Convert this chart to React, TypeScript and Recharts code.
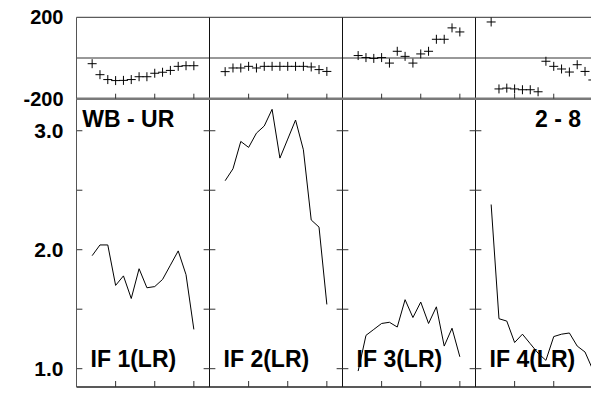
import { ComposedChart, Line, Scatter, XAxis, YAxis, ReferenceLine, ReferenceDot } from 'recharts'

// four panels share one numeric x axis, each panel is 17 units wide
const PANEL = 17
const steps = [2, 3, 4, 5, 6, 7, 8, 9, 10, 11, 12, 13, 14, 15]
const xTicks = [5, 10, 15, 22, 27, 32, 39, 44, 49, 56, 61, 66]
const dividers = [17, 34, 51]
const ampTicks = [3.0, 2.5, 2.0, 1.5, 1.0]

// upper strip (phase, -200..200)
const phase1 = [-28, -82, -106, -111, -110, -106, -92, -92, -75, -70, -61, -41, -38, -38]
const phase2 = [-67, -49, -49, -41, -49, -41, -41, -41, -41, -41, -41, -44, -57, -66]
const phase3 = [12, 2, -2, 2, -25, 33, 8, -25, 20, 33, 92, 92, 148, 128]
const phase4 = [177, -152, -148, -152, -156, -156, -166, -16, -41, -54, -69, -33, -66, -108]

// lower strip (amplitude)
const amp1 = [1.95, 2.04, 2.04, 1.70, 1.78, 1.59, 1.84, 1.68, 1.69, 1.75, 1.87, 1.99, 1.79, 1.33]
const amp2 = [2.58, 2.68, 2.91, 2.86, 2.98, 3.04, 3.18, 2.77, 2.93, 3.09, 2.84, 2.25, 2.19, 1.54]
const amp3 = [0.98, 1.28, 1.33, 1.38, 1.39, 1.35, 1.58, 1.43, 1.56, 1.38, 1.52, 1.19, 1.34, 1.10]
const amp4 = [2.38, 1.42, 1.40, 1.22, 1.29, 1.21, 1.13, 1.07, 1.27, 1.29, 1.30, 1.19, 1.14, 0.99]

const panelLabels = ['IF 1(LR)', 'IF 2(LR)', 'IF 3(LR)', 'IF 4(LR)']

const toPoints = (vals: number[], k: number) => vals.map((v, i) => ({ x: PANEL * k + steps[i], v }))

const phases = [phase1, phase2, phase3, phase4].map(toPoints)
const amps = [amp1, amp2, amp3, amp4].map(toPoints)

const FONT = 'Liberation Sans, Arial, Helvetica, sans-serif'
const W = 620
const H = 394
const tickFont = { fill: '#000', fontSize: 20, fontWeight: 700, fontFamily: FONT }
const ampTickFont = { ...tickFont, fontSize: 21 }
const labelStyle = { fill: '#000', fontSize: 23, fontWeight: 700, fontFamily: FONT }
const noLabel = () => <g />

const Plus = (props: any) => {
  const { cx, cy } = props
  if (cx == null || cy == null) return null
  return (
    <g>
      <line x1={cx - 4.5} x2={cx + 4.5} y1={cy} y2={cy} stroke="#000" strokeWidth={1} />
      <line x1={cx} x2={cx} y1={cy - 4.5} y2={cy + 4.5} stroke="#000" strokeWidth={1} />
    </g>
  )
}

function PhaseStrip() {
  return (
    <ComposedChart width={W} height={H} margin={{ top: 17.3, right: 11.5, bottom: H - 98.7, left: 0 }}>
      <XAxis dataKey="x" type="number" domain={[0, 68]} ticks={xTicks} orientation="bottom" mirror
        tick={noLabel} tickSize={5} tickLine={{ stroke: '#333' }} axisLine={{ stroke: '#7a7a7a', strokeWidth: 2.5 }} />
      <XAxis xAxisId="top" type="number" domain={[0, 68]} ticks={xTicks} orientation="top" mirror
        tick={noLabel} tickSize={4} tickLine={{ stroke: '#333' }} axisLine={{ stroke: '#333' }} />
      <YAxis dataKey="v" type="number" domain={[-200, 200]} ticks={[200, -200]} width={76.5}
        tickLine={false} tickSize={0} tickMargin={13} axisLine={{ stroke: '#555' }} tick={tickFont} />
      <ReferenceLine y={0} stroke="#333" />
      {dividers.map(d => <ReferenceLine key={d} x={d} stroke="#111" />)}
      {phases.map((pts, k) => (
        <Scatter key={k} data={pts} dataKey="v" shape={Plus} isAnimationActive={false} />
      ))}
    </ComposedChart>
  )
}

function AmpStrip() {
  return (
    <ComposedChart width={W} height={H} margin={{ top: 98.5, right: 11.5, bottom: H - 387, left: 0 }}>
      <XAxis dataKey="x" type="number" domain={[0, 68]} ticks={xTicks} orientation="bottom" mirror
        tick={noLabel} tickSize={6} tickLine={{ stroke: '#333' }} axisLine={{ stroke: '#222', strokeWidth: 1.5 }} />
      <XAxis xAxisId="top" type="number" domain={[0, 68]} ticks={xTicks} orientation="top" mirror
        tick={noLabel} tickSize={6} tickLine={{ stroke: '#333' }} axisLine={false} />
      <YAxis type="number" domain={[0.846, 3.271]} ticks={[3.0, 2.0, 1.0]} width={76.5}
        tickFormatter={(v: number) => v.toFixed(1)}
        tickLine={false} tickSize={0} tickMargin={13} axisLine={{ stroke: '#555' }} tick={ampTickFont} />
      {dividers.map(d => <ReferenceLine key={d} x={d} stroke="#111" />)}
      {ampTicks.map(v => (
        <ReferenceLine key={'l' + v} segment={[{ x: 0, y: v }, { x: 0.75, y: v }]} stroke="#333" />
      ))}
      {dividers.flatMap(d => ampTicks.map(v => (
        <ReferenceLine key={d + '-' + v} segment={[{ x: d - 0.75, y: v }, { x: d + 0.75, y: v }]} stroke="#333" />
      )))}
      {amps.map((pts, k) => (
        <Line key={k} data={pts} dataKey="v" type="linear" stroke="#000" strokeWidth={1}
          dot={false} isAnimationActive={false} />
      ))}
      <ReferenceDot x={0.75} y={3.103} r={0} stroke="none"
        label={{ value: 'WB - UR', position: 'right', offset: 0, ...labelStyle }} />
      <ReferenceDot x={64.5} y={3.103} r={0} stroke="none"
        label={{ value: '2 - 8', position: 'left', offset: 0, ...labelStyle }} />
      {panelLabels.map((t, k) => (
        <ReferenceDot key={t} x={PANEL * k + 1.8} y={1.084} r={0} stroke="none"
          label={{ value: t, position: 'right', offset: 0, ...labelStyle }} />
      ))}
    </ComposedChart>
  )
}

export default function App() {
  return (
    <div style={{ position: 'fixed', left: 0, top: 0, width: 591, height: 394, overflow: 'hidden', background: '#fff' }}>
      <div style={{ position: 'absolute', left: 0, top: 0 }}>
        <AmpStrip />
      </div>
      <div style={{ position: 'absolute', left: 0, top: 0 }}>
        <PhaseStrip />
      </div>
    </div>
  )
}
